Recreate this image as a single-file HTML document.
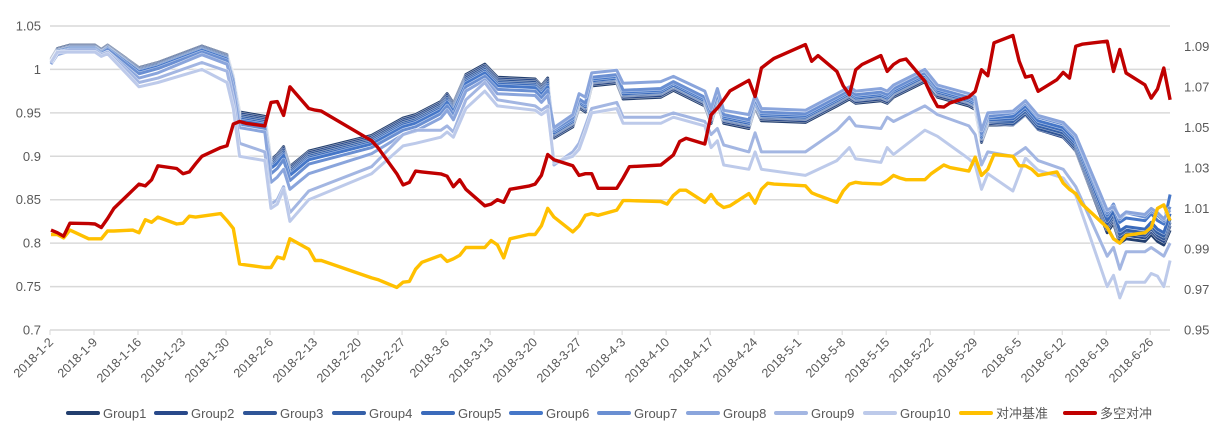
<!DOCTYPE html>
<html><head><meta charset="utf-8"><style>
body{margin:0;background:#fff;}
svg{display:block;font-family:"Liberation Sans","Noto Sans CJK SC",sans-serif;}
</style></head><body>
<svg id="chart" width="1221" height="441" xmlns="http://www.w3.org/2000/svg">
<g id="grid"></g>
<g id="axes"></g>
<g id="series"></g>
<g id="legend"></g>
</svg>
<script>
const fineDates = ['1-2','1-3','1-4','1-5','1-8','1-9','1-10','1-11','1-12','1-15','1-16','1-17','1-18','1-19','1-22','1-23','1-24','1-25','1-26','1-29','1-30','1-31',
'2-1','2-2','2-5','2-6','2-7','2-8','2-9','2-12','2-13','2-14','2-22','2-23','2-26','2-27','2-28',
'3-1','3-2','3-5','3-6','3-7','3-8','3-9','3-12','3-13','3-14','3-15','3-16','3-19','3-20','3-21','3-22','3-23','3-26','3-27','3-28','3-29','3-30',
'4-2','4-3','4-4','4-9','4-10','4-11','4-12','4-13','4-16','4-17','4-18','4-19','4-20','4-23','4-24','4-25','4-26','4-27',
'5-2','5-3','5-4','5-7','5-8','5-9','5-10','5-11','5-14','5-15','5-16','5-17','5-18','5-21','5-22','5-23','5-24','5-25','5-28','5-29','5-30','5-31',
'6-1','6-4','6-5','6-6','6-7','6-8','6-11','6-12','6-13','6-14','6-15','6-19','6-20','6-21','6-22','6-25','6-26','6-27','6-28','6-29'];
const hedgeLongShort = [.9993,.998,.9963,1.0027,1.0025,1.0023,1.0006,1.005,1.01,1.019,1.022,1.0211,1.0241,1.031,1.0297,1.0271,1.028,1.032,1.0357,1.04,1.0409,1.0516,
1.0529,1.052,1.0507,1.0623,1.0627,1.0559,1.07,1.0593,1.0585,1.058,1.0434,1.040,1.0271,1.0216,1.0229,
1.0284,1.028,1.027,1.0259,1.0207,1.0241,1.0194,1.0113,1.0121,1.0143,1.013,1.0194,1.021,1.022,1.0263,1.0366,1.034,1.031,1.0263,1.0271,1.0271,1.0199,
1.0199,1.025,1.0306,1.0314,1.0339,1.0364,1.043,1.0446,1.0418,1.0562,1.0595,1.0636,1.068,1.0732,1.0652,1.0793,1.0817,1.084,
1.0908,1.0826,1.0854,1.0776,1.0705,1.0661,1.0784,1.081,1.0854,1.0776,1.081,1.083,1.0837,1.0727,1.066,1.0603,1.06,1.062,1.065,1.0678,1.0784,1.0755,
1.0917,1.0953,1.0826,1.0748,1.0755,1.0678,1.0735,1.0771,1.0743,1.09,1.091,1.0925,1.0776,1.0884,1.0768,1.071,1.0644,1.0689,1.0793,1.0636];
const hedgeBenchmark = [.81,.81,.806,.815,.805,.805,.805,.814,.814,.815,.812,.827,.824,.83,.822,.823,.831,.83,.831,.834,.826,.817,
.776,.775,.772,.772,.784,.782,.805,.793,.78,.78,.76,.758,.749,.755,.756,
.77,.778,.786,.779,.782,.786,.795,.795,.803,.798,.783,.805,.81,.81,.82,.84,.83,.813,.82,.832,.834,.832,
.838,.849,.849,.848,.845,.855,.861,.861,.847,.856,.846,.841,.843,.857,.846,.862,.869,.868,
.866,.858,.855,.847,.86,.868,.87,.869,.868,.872,.878,.875,.873,.873,.88,.885,.89,.887,.883,.899,.878,.885,
.902,.9,.889,.889,.885,.878,.882,.869,.862,.857,.845,.818,.805,.8,.809,.812,.818,.84,.844,.826];
const bandDates = ['1-2','1-3','1-5','1-9','1-10','1-11','1-16','1-19','1-26','1-30','1-31',
'2-1','2-5','2-6','2-7','2-8','2-9','2-12','2-22','2-27',
'3-1','3-5','3-6','3-7','3-9','3-12','3-14','3-20','3-21','3-22','3-23','3-26','3-27','3-28','3-29',
'4-2','4-3','4-9','4-11','4-16','4-17','4-18','4-19','4-23','4-24','4-25',
'5-2','5-7','5-9','5-10','5-14','5-15','5-16','5-21','5-23','5-28','5-29','5-30','5-31',
'6-4','6-6','6-8','6-12','6-14','6-19','6-20','6-21','6-22','6-25','6-26','6-27','6-28','6-29'];
const group1 = [1.012,1.024,1.028,1.028,1.023,1.028,1.002,1.008,1.027,1.017,0.992,
0.951,0.946,0.896,0.902,0.911,0.888,0.906,0.924,0.944,
0.948,0.963,0.972,0.961,0.994,1.006,0.991,0.989,0.981,0.990,0.921,0.934,0.956,0.951,0.981,
0.984,0.966,0.968,0.976,0.958,0.938,0.962,0.938,0.932,0.956,0.941,
0.939,0.958,0.966,0.961,0.964,0.961,0.968,0.986,0.968,0.958,0.954,0.916,0.936,
0.936,0.948,0.931,0.923,0.906,0.812,0.823,0.800,0.805,0.802,0.810,0.802,0.798,0.815];
const group2 = [1.011,1.023,1.027,1.027,1.022,1.027,1.001,1.007,1.026,1.016,0.991,
0.949,0.944,0.894,0.900,0.909,0.886,0.904,0.922,0.942,
0.946,0.961,0.970,0.959,0.992,1.004,0.989,0.987,0.979,0.988,0.923,0.936,0.958,0.953,0.983,
0.986,0.968,0.970,0.978,0.960,0.940,0.964,0.940,0.934,0.958,0.943,
0.941,0.960,0.968,0.963,0.966,0.963,0.970,0.988,0.970,0.960,0.956,0.918,0.938,
0.936,0.948,0.931,0.922,0.907,0.816,0.827,0.804,0.809,0.806,0.814,0.806,0.802,0.820];
const group3 = [1.010,1.022,1.026,1.026,1.021,1.026,1.000,1.006,1.025,1.015,0.990,
0.947,0.942,0.892,0.898,0.907,0.884,0.902,0.920,0.940,
0.944,0.959,0.968,0.957,0.990,1.002,0.987,0.985,0.977,0.986,0.925,0.938,0.960,0.955,0.985,
0.988,0.970,0.972,0.980,0.962,0.942,0.966,0.942,0.936,0.960,0.945,
0.943,0.962,0.970,0.965,0.968,0.965,0.972,0.990,0.972,0.962,0.958,0.920,0.940,
0.937,0.949,0.932,0.924,0.909,0.819,0.830,0.807,0.812,0.809,0.817,0.809,0.805,0.824];
const group4 = [1.009,1.021,1.025,1.025,1.020,1.025,0.999,1.005,1.024,1.014,0.989,
0.945,0.940,0.890,0.896,0.905,0.882,0.900,0.918,0.938,
0.942,0.957,0.966,0.955,0.988,1.000,0.985,0.983,0.975,0.984,0.926,0.939,0.961,0.956,0.986,
0.989,0.971,0.973,0.981,0.963,0.943,0.967,0.943,0.937,0.961,0.946,
0.944,0.963,0.971,0.966,0.969,0.966,0.973,0.991,0.973,0.963,0.959,0.921,0.941,
0.940,0.952,0.935,0.927,0.912,0.822,0.833,0.810,0.815,0.812,0.820,0.812,0.808,0.828];
const group5 = [1.009,1.021,1.025,1.025,1.020,1.025,0.998,1.004,1.023,1.013,0.988,
0.943,0.938,0.888,0.894,0.903,0.880,0.898,0.916,0.936,
0.940,0.955,0.964,0.953,0.986,0.998,0.983,0.981,0.973,0.982,0.927,0.940,0.962,0.957,0.987,
0.990,0.972,0.974,0.982,0.964,0.944,0.968,0.944,0.938,0.962,0.947,
0.945,0.964,0.972,0.967,0.970,0.967,0.974,0.992,0.974,0.964,0.960,0.922,0.942,
0.943,0.955,0.938,0.930,0.915,0.826,0.837,0.814,0.819,0.816,0.824,0.816,0.812,0.834];
const group6 = [1.008,1.020,1.024,1.024,1.019,1.024,0.997,1.003,1.022,1.012,0.987,
0.941,0.936,0.886,0.892,0.901,0.878,0.896,0.914,0.934,
0.938,0.953,0.962,0.951,0.984,0.996,0.981,0.979,0.971,0.980,0.929,0.942,0.964,0.959,0.989,
0.992,0.974,0.976,0.984,0.966,0.946,0.970,0.946,0.940,0.964,0.949,
0.947,0.966,0.974,0.969,0.972,0.969,0.976,0.994,0.976,0.966,0.962,0.924,0.944,
0.946,0.958,0.941,0.933,0.918,0.832,0.843,0.824,0.829,0.826,0.834,0.826,0.822,0.856];
const group7 = [1.007,1.019,1.023,1.023,1.018,1.023,0.995,1.001,1.020,1.010,0.984,
0.937,0.932,0.880,0.886,0.896,0.872,0.891,0.910,0.930,
0.934,0.949,0.958,0.947,0.980,0.992,0.977,0.975,0.967,0.976,0.931,0.944,0.966,0.961,0.991,
0.994,0.976,0.978,0.986,0.968,0.950,0.972,0.948,0.942,0.966,0.951,
0.949,0.968,0.976,0.971,0.974,0.971,0.978,0.996,0.978,0.968,0.964,0.926,0.946,
0.950,0.962,0.945,0.937,0.922,0.835,0.845,0.828,0.835,0.830,0.838,0.832,0.826,0.842];
const group8 = [1.006,1.017,1.021,1.021,1.016,1.020,0.990,0.996,1.017,1.006,0.978,
0.933,0.928,0.870,0.876,0.885,0.862,0.880,0.903,0.925,
0.929,0.944,0.953,0.942,0.975,0.988,0.972,0.970,0.962,0.970,0.933,0.948,0.972,0.968,0.996,
0.999,0.984,0.986,0.992,0.975,0.955,0.978,0.953,0.948,0.970,0.955,
0.953,0.972,0.980,0.975,0.978,0.975,0.982,1.000,0.982,0.972,0.968,0.930,0.950,
0.952,0.964,0.947,0.939,0.924,0.838,0.842,0.830,0.836,0.833,0.840,0.835,0.828,0.838];
const group9 = [1.008,1.020,1.022,1.022,1.017,1.020,0.985,0.990,1.008,0.998,0.965,
0.915,0.905,0.845,0.850,0.865,0.835,0.860,0.888,0.925,
0.930,0.930,0.935,0.928,0.965,0.985,0.965,0.958,0.953,0.958,0.890,0.905,0.915,0.935,0.955,
0.962,0.945,0.945,0.950,0.940,0.925,0.932,0.913,0.905,0.927,0.905,
0.905,0.930,0.945,0.935,0.932,0.945,0.940,0.958,0.948,0.935,0.925,0.890,0.905,
0.900,0.910,0.895,0.885,0.865,0.785,0.795,0.770,0.790,0.790,0.795,0.790,0.785,0.800];
const group10 = [1.008,1.020,1.020,1.020,1.015,1.018,0.980,0.985,1.000,0.985,0.955,
0.900,0.895,0.840,0.845,0.862,0.825,0.850,0.880,0.912,
0.915,0.922,0.928,0.922,0.955,0.975,0.958,0.953,0.948,0.953,0.893,0.900,0.908,0.928,0.950,
0.955,0.938,0.938,0.945,0.935,0.910,0.918,0.890,0.885,0.905,0.885,
0.878,0.895,0.910,0.897,0.893,0.910,0.902,0.930,0.923,0.897,0.890,0.862,0.880,
0.860,0.898,0.884,0.875,0.855,0.750,0.763,0.737,0.755,0.755,0.765,0.762,0.750,0.780];
const leftTicks = [0.7,0.75,0.8,0.85,0.9,0.95,1,1.05];
const leftTickLabels = ['0.7','0.75','0.8','0.85','0.9','0.95','1','1.05'];
const rightTicks = [0.95,0.97,0.99,1.01,1.03,1.05,1.07,1.09];
const rightTickLabels = ['0.95','0.97','0.99','1.01','1.03','1.05','1.07','1.09'];
const xTickLabels = ['2018-1-2','2018-1-9','2018-1-16','2018-1-23','2018-1-30','2018-2-6','2018-2-13','2018-2-20','2018-2-27','2018-3-6','2018-3-13','2018-3-20','2018-3-27','2018-4-3','2018-4-10','2018-4-17','2018-4-24','2018-5-1','2018-5-8','2018-5-15','2018-5-22','2018-5-29','2018-6-5','2018-6-12','2018-6-19','2018-6-26'];
const seriesNames = ['Group1','Group2','Group3','Group4','Group5','Group6','Group7','Group8','Group9','Group10','对冲基准','多空对冲'];
const seriesColors = ['#223e6e','#29498a','#2f5597','#3560a8','#3b6bbb','#4677c8','#6a8fd2','#8aa5dc','#a3b6e2','#bdcaea','#ffc000','#c00000'];

const NS='http://www.w3.org/2000/svg';
function mk(tag,attrs,parent){const e=document.createElementNS(NS,tag);for(const k in attrs)e.setAttribute(k,attrs[k]);parent.appendChild(e);return e;}
const X0=51, XPD=6.287, T0=Date.UTC(2018,0,2);
function dayOf(s){const p=s.split('-');const parts=p.length===3?[p[1],p[2]]:p;return (Date.UTC(2018,+parts[0]-1,+parts[1])-T0)/86400000;}
function xS(s){return X0+dayOf(s)*XPD;}
function yL(v){return 330-(v-0.7)/0.35*304;}
function yR(v){return 330-(v-0.95)/0.15*304;}

const grid=document.getElementById('grid'), axes=document.getElementById('axes'), ser=document.getElementById('series'), leg=document.getElementById('legend');
leftTicks.forEach((t,i)=>{
  const ln=mk('line',{x1:50,x2:1170,y1:yL(t),y2:yL(t),stroke:'#d9d9d9','stroke-width':1.5},grid);
  
  
  const tx=mk('text',{x:41,y:yL(t)+4.5,'text-anchor':'end','font-size':13,fill:'#595959'},axes);
  tx.textContent=leftTickLabels[i];
  
  
});
rightTicks.forEach((t,i)=>{
  const tx=mk('text',{x:1184,y:yR(t)+4.5,'font-size':13,fill:'#595959'},axes);
  tx.textContent=rightTickLabels[i];
  
  
});
xTickLabels.forEach((s,i)=>{
  const x=xS(s);
  const tk=mk('line',{x1:x-1,x2:x-1,y1:330,y2:335,stroke:'#d9d9d9','stroke-width':1},axes);
  
  
  const tx=mk('text',{x:0,y:0,'text-anchor':'end','font-size':12.5,fill:'#595959',transform:'translate('+(x+3)+',343) rotate(-45)'},axes);
  tx.textContent=s;
  
  
});
const groups=[group1,group2,group3,group4,group5,group6,group7,group8,group9,group10];
function path(dates,vals,yf){return dates.map((d,i)=>(i?'L':'M')+xS(d).toFixed(1)+','+yf(vals[i]).toFixed(1)).join('');}
groups.forEach((g,i)=>{
  const d=path(bandDates,g,yL);
  const h=mk('path',{d:d,fill:'none',stroke:'#ffffff','stroke-opacity':0.6,'stroke-width':4.2,'stroke-linejoin':'round'},ser);
  
  
  const p=mk('path',{d:d,fill:'none',stroke:seriesColors[i],'stroke-width':3,'stroke-linejoin':'round'},ser);
  
  
});
const yb=mk('path',{d:path(fineDates,hedgeBenchmark,yL),fill:'none',stroke:seriesColors[10],'stroke-width':3.4,'stroke-linejoin':'round'},ser);


const rl=mk('path',{d:path(fineDates,hedgeLongShort,yR),fill:'none',stroke:seriesColors[11],'stroke-width':3.4,'stroke-linejoin':'round'},ser);



const legX=[68,156,245,334,423,511,599,688,776,865,961,1065];
seriesNames.forEach((n,i)=>{
  const g=mk('g',{},leg);
  
  
  mk('line',{x1:legX[i],x2:legX[i]+30,y1:413,y2:413,stroke:seriesColors[i],'stroke-width':4,'stroke-linecap':'round'},g);
  const t=mk('text',{x:legX[i]+35,y:418,'font-size':13,fill:'#595959'},g);
  t.textContent=n;
});
</script>
</body></html>
